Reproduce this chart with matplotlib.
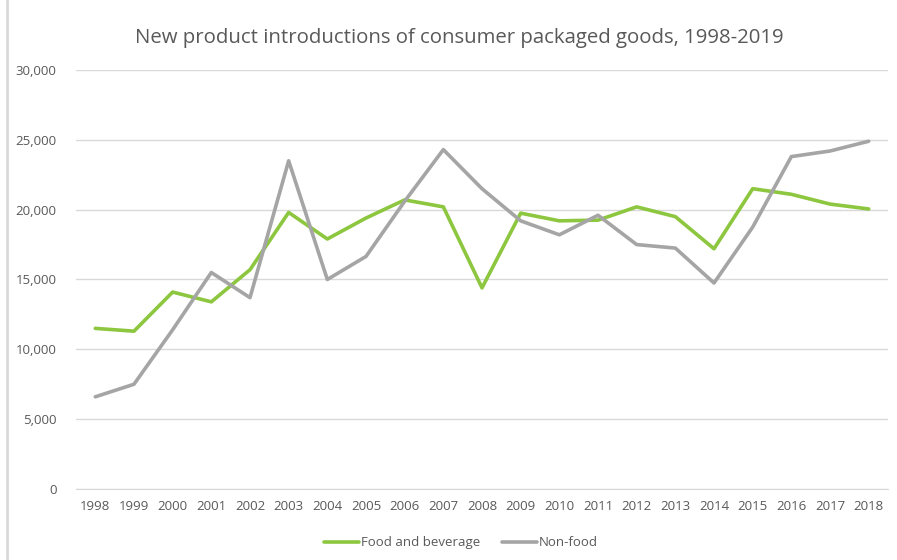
import matplotlib.pyplot as plt
from matplotlib.patches import Rectangle
from matplotlib.ticker import FuncFormatter

plt.rcParams['font.family'] = ['Open Sans', 'DejaVu Sans']

years = [str(y) for y in range(1998, 2019)]
food = [11500, 11300, 14100, 13400, 15700, 19800, 17900, 19400, 20700, 20200, 14400,
        19750, 19200, 19250, 20200, 19500, 17200, 21500, 21100, 20400, 20050]
nonfood = [6600, 7500, 11400, 15500, 13700, 23500, 15000, 16650, 20600, 24300, 21500,
           19200, 18200, 19600, 17500, 17250, 14750, 18750, 23800, 24200, 24900]

fig = plt.figure(figsize=(8.97, 5.6), dpi=100)
ax = fig.add_axes([0.0847, 0.1268, 0.9053, 0.7482])

x = range(len(years))
ax.plot(x, food, color='#8dc63f', lw=2.6, label='Food and beverage', solid_capstyle='round')
ax.plot(x, nonfood, color='#a5a5a5', lw=2.6, label='Non-food', solid_capstyle='round')

ax.set_xlim(-0.5, len(years) - 0.5)
ax.set_ylim(0, 30000)
ax.set_yticks(range(0, 30001, 5000))
ax.yaxis.set_major_formatter(FuncFormatter(lambda v, p: f'{int(v):,}'))
ax.set_xticks(list(x))
ax.set_xticklabels(years)
ax.grid(axis='y', color='#d9d9d9', lw=1)
ax.set_axisbelow(True)
for s in ['top', 'right', 'left']:
    ax.spines[s].set_visible(False)
ax.spines['bottom'].set_color('#d9d9d9')
ax.tick_params(length=0, labelsize=9.5, colors='#595959')
ax.tick_params(axis='y', pad=14)
ax.tick_params(axis='x', pad=8)

fig.text(0.512, 0.932, 'New product introductions of consumer packaged goods, 1998-2019',
         ha='center', va='center', fontsize=14.7, color='#595959')

ax.legend(loc='upper center', bbox_to_anchor=(0.474, -0.085), ncol=2, frameon=False,
          fontsize=9.5, labelcolor='#595959', handlelength=2.7, handletextpad=0.15,
          columnspacing=1.6)

fig.patches.append(Rectangle((0.008, -0.01), 0.995, 1.05, transform=fig.transFigure,
                             fill=False, edgecolor='#d9d9d9', lw=2))

fig.savefig('out.png', dpi=100)
